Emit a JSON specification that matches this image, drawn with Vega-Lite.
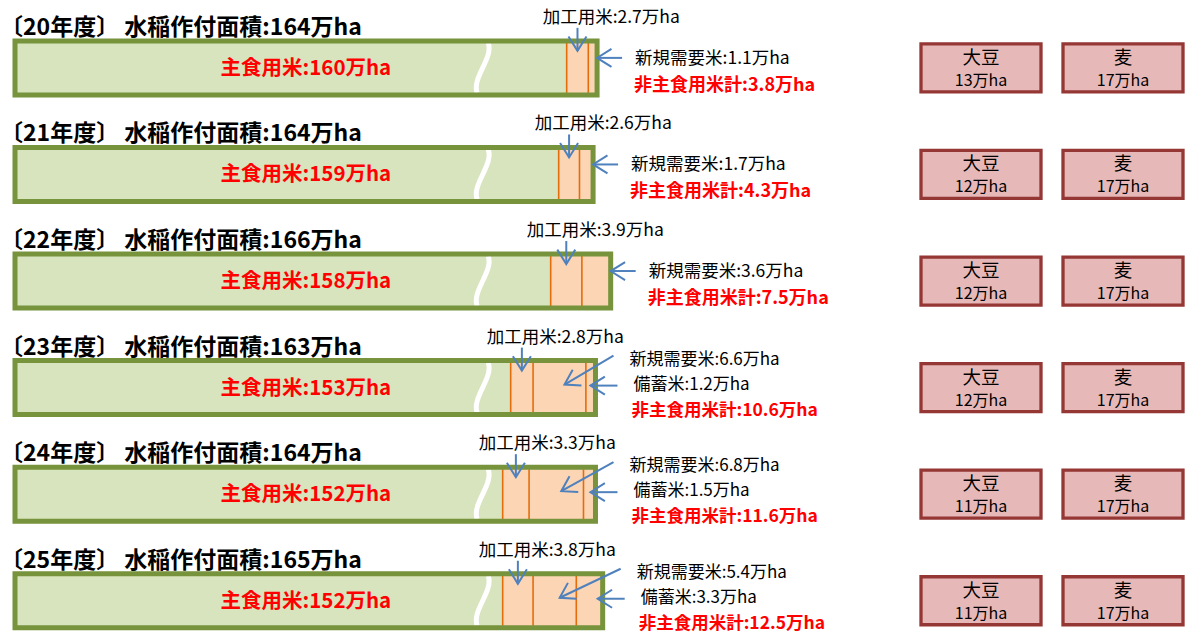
{
  "$schema": "https://vega.github.io/schema/vega-lite/v6.json",
  "width": 1168,
  "height": 639,
  "padding": {"left": 0, "top": 0, "right": 0, "bottom": 0},
  "autosize": {"type": "pad"},
  "config": {"view": {"stroke": null}, "font": "Noto Sans CJK JP"},
  "datasets": {
    "segs": [
      {"yr": 20, "cat": "主食用米", "area": 160, "ord": 1},
      {"yr": 20, "cat": "加工用米", "area": 2.7, "ord": 2},
      {"yr": 20, "cat": "新規需要米", "area": 1.1, "ord": 3},
      {"yr": 21, "cat": "主食用米", "area": 159, "ord": 1},
      {"yr": 21, "cat": "加工用米", "area": 2.6, "ord": 2},
      {"yr": 21, "cat": "新規需要米", "area": 1.7, "ord": 3},
      {"yr": 22, "cat": "主食用米", "area": 158, "ord": 1},
      {"yr": 22, "cat": "加工用米", "area": 3.9, "ord": 2},
      {"yr": 22, "cat": "新規需要米", "area": 3.6, "ord": 3},
      {"yr": 23, "cat": "主食用米", "area": 153, "ord": 1},
      {"yr": 23, "cat": "加工用米", "area": 2.8, "ord": 2},
      {"yr": 23, "cat": "新規需要米", "area": 6.6, "ord": 3},
      {"yr": 23, "cat": "備蓄米", "area": 1.2, "ord": 4},
      {"yr": 24, "cat": "主食用米", "area": 152, "ord": 1},
      {"yr": 24, "cat": "加工用米", "area": 3.3, "ord": 2},
      {"yr": 24, "cat": "新規需要米", "area": 6.8, "ord": 3},
      {"yr": 24, "cat": "備蓄米", "area": 1.5, "ord": 4},
      {"yr": 25, "cat": "主食用米", "area": 152, "ord": 1},
      {"yr": 25, "cat": "加工用米", "area": 3.8, "ord": 2},
      {"yr": 25, "cat": "新規需要米", "area": 5.4, "ord": 3},
      {"yr": 25, "cat": "備蓄米", "area": 3.3, "ord": 4}
    ],
    "years": [
      {"yr": 20, "label": "20年度", "total": 164, "nonmain": 3.8},
      {"yr": 21, "label": "21年度", "total": 164, "nonmain": 4.3},
      {"yr": 22, "label": "22年度", "total": 166, "nonmain": 7.5},
      {"yr": 23, "label": "23年度", "total": 163, "nonmain": 10.6},
      {"yr": 24, "label": "24年度", "total": 164, "nonmain": 11.6},
      {"yr": 25, "label": "25年度", "total": 165, "nonmain": 12.5}
    ],
    "crops": [
      {"yr": 20, "crop": "大豆", "area": 13}, {"yr": 20, "crop": "麦", "area": 17},
      {"yr": 21, "crop": "大豆", "area": 12}, {"yr": 21, "crop": "麦", "area": 17},
      {"yr": 22, "crop": "大豆", "area": 12}, {"yr": 22, "crop": "麦", "area": 17},
      {"yr": 23, "crop": "大豆", "area": 12}, {"yr": 23, "crop": "麦", "area": 17},
      {"yr": 24, "crop": "大豆", "area": 11}, {"yr": 24, "crop": "麦", "area": 17},
      {"yr": 25, "crop": "大豆", "area": 11}, {"yr": 25, "crop": "麦", "area": 17}
    ]
  },
  "resolve": {"scale": {"x": "independent"}},
  "layer": [
    {
      "data": {"name": "segs"},
      "transform": [
        {"stack": "area", "groupby": ["yr"], "sort": [{"field": "ord", "order": "ascending"}], "as": ["x0", "x1"]},
        {"joinaggregate": [{"op": "max", "field": "x1", "as": "xend"}, {"op": "count", "as": "nseg"}], "groupby": ["yr"]},
        {"calculate": "(datum.x0 + datum.x1) / 2", "as": "xmid"},
        {"lookup": "yr", "from": {"data": {"name": "years"}, "key": "yr", "fields": ["label", "total", "nonmain"]}},
        {"calculate": "datum.cat + ':' + datum.area + '万ha'", "as": "txt"},
        {"calculate": "'〔' + datum.label + '〕 水稲作付面積:' + datum.total + '万ha'", "as": "ttl"},
        {"calculate": "'非主食用米計:' + datum.nonmain + '万ha'", "as": "nm"}
      ],
      "encoding": {
        "y": {"field": "yr", "type": "quantitative", "scale": {"domain": [19.363, 25.359], "reverse": true, "nice": false, "zero": false}, "axis": null}
      },
      "layer": [
        {
          "mark": {"type": "rect", "yOffset": -27, "y2Offset": 27},
          "encoding": {
            "x": {"field": "x0", "type": "quantitative", "scale": {"domain": [91.04, 237.04], "clamp": true, "nice": false, "zero": false}, "axis": null},
            "x2": {"field": "x1"},
            "y2": {"field": "yr"},
            "color": {"field": "cat", "type": "nominal", "scale": {"domain": ["主食用米", "加工用米", "新規需要米", "備蓄米"], "range": ["#d7e4bd", "#fcd5b5", "#fcd5b5", "#fcd5b5"]}, "legend": null}
          }
        },
        {
          "transform": [{"filter": "datum.ord > 1"}],
          "mark": {"type": "rule", "yOffset": -25, "y2Offset": 25, "color": "#e46c0a", "strokeWidth": 1.6},
          "encoding": {
            "x": {"field": "x0", "type": "quantitative", "scale": {"domain": [91.04, 237.04], "clamp": true, "nice": false, "zero": false}, "axis": null},
            "y2": {"field": "yr"}
          }
        },
        {
          "transform": [{"filter": "datum.ord == 1"}],
          "mark": {"type": "point", "shape": "M0.22,-1C0.45,-0.4,-0.45,0.4,-0.22,1", "size": 2500, "filled": false, "stroke": "#ffffff", "strokeWidth": 5, "opacity": 1},
          "encoding": {
            "x": {"datum": 149.5, "type": "quantitative", "scale": {"domain": [91.04, 237.04], "clamp": true, "nice": false, "zero": false}, "axis": null}
          }
        },
        {
          "transform": [{"filter": "datum.ord == 1"}],
          "mark": {"type": "rect", "yOffset": -27, "y2Offset": 27, "filled": false, "stroke": "#77933c", "strokeWidth": 5},
          "encoding": {
            "x": {"field": "x0", "type": "quantitative", "scale": {"domain": [91.04, 237.04], "clamp": true, "nice": false, "zero": false}, "axis": null},
            "x2": {"field": "xend"},
            "y2": {"field": "yr"}
          }
        },
        {
          "transform": [{"filter": "datum.ord == 1"}],
          "mark": {"type": "text", "align": "left", "baseline": "middle", "dx": -15, "dy": -40, "fontSize": 23, "fontWeight": "bold", "color": "#000000"},
          "encoding": {
            "x": {"field": "x0", "type": "quantitative", "scale": {"domain": [91.04, 237.04], "clamp": true, "nice": false, "zero": false}, "axis": null},
            "text": {"field": "ttl"}
          }
        },
        {
          "transform": [{"filter": "datum.ord == 1"}],
          "mark": {"type": "text", "align": "center", "baseline": "middle", "dy": 1, "fontSize": 20.5, "fontWeight": "bold", "color": "#ff0000"},
          "encoding": {
            "x": {"datum": 127.4, "type": "quantitative", "scale": {"domain": [91.04, 237.04], "clamp": true, "nice": false, "zero": false}, "axis": null},
            "text": {"field": "txt"}
          }
        },
        {
          "transform": [{"filter": "datum.cat == '加工用米'"}],
          "mark": {"type": "text", "align": "left", "baseline": "middle", "dx": -24, "dy": -50, "fontSize": 17.5, "color": "#000000"},
          "encoding": {
            "x": {"field": "x0", "type": "quantitative", "scale": {"domain": [91.04, 237.04], "clamp": true, "nice": false, "zero": false}, "axis": null},
            "text": {"field": "txt"}
          }
        },
        {
          "transform": [{"filter": "datum.cat == '加工用米'"}],
          "mark": {"type": "rule", "yOffset": -40, "y2Offset": -17, "color": "#4f81bd", "strokeWidth": 2},
          "encoding": {
            "x": {"field": "xmid", "type": "quantitative", "scale": {"domain": [91.04, 237.04], "clamp": true, "nice": false, "zero": false}, "axis": null},
            "y2": {"field": "yr"}
          }
        },
        {
          "transform": [{"filter": "datum.cat == '加工用米'"}],
          "mark": {"type": "point", "shape": "M-1.6,-1L0,0L-1.6,1", "size": 324, "angle": 90, "filled": false, "stroke": "#4f81bd", "strokeWidth": 2, "opacity": 1, "yOffset": -17},
          "encoding": {
            "x": {"field": "xmid", "type": "quantitative", "scale": {"domain": [91.04, 237.04], "clamp": true, "nice": false, "zero": false}, "axis": null}
          }
        },
        {
          "transform": [{"filter": "datum.cat == '新規需要米' && datum.nseg == 3"}],
          "mark": {"type": "text", "align": "left", "baseline": "middle", "dx": 38, "dy": -9, "fontSize": 17.5, "color": "#000000"},
          "encoding": {
            "x": {"field": "xend", "type": "quantitative", "scale": {"domain": [91.04, 237.04], "clamp": true, "nice": false, "zero": false}, "axis": null},
            "text": {"field": "txt"}
          }
        },
        {
          "transform": [{"filter": "datum.cat == '新規需要米' && datum.nseg == 3"}],
          "mark": {"type": "rule", "xOffset": 25, "x2Offset": 0, "yOffset": -10, "color": "#4f81bd", "strokeWidth": 2},
          "encoding": {
            "x": {"field": "xend", "type": "quantitative", "scale": {"domain": [91.04, 237.04], "clamp": true, "nice": false, "zero": false}, "axis": null},
            "x2": {"field": "xend"}
          }
        },
        {
          "transform": [{"filter": "datum.cat == '新規需要米' && datum.nseg == 3"}],
          "mark": {"type": "point", "shape": "M-1.6,-1L0,0L-1.6,1", "size": 324, "angle": 180, "filled": false, "stroke": "#4f81bd", "strokeWidth": 2, "opacity": 1, "yOffset": -10},
          "encoding": {
            "x": {"field": "xend", "type": "quantitative", "scale": {"domain": [91.04, 237.04], "clamp": true, "nice": false, "zero": false}, "axis": null}
          }
        },
        {
          "transform": [{"filter": "datum.cat == '新規需要米' && datum.nseg == 4"}],
          "mark": {"type": "text", "align": "left", "baseline": "middle", "dx": 34, "dy": -28, "fontSize": 17, "color": "#000000"},
          "encoding": {
            "x": {"field": "xend", "type": "quantitative", "scale": {"domain": [91.04, 237.04], "clamp": true, "nice": false, "zero": false}, "axis": null},
            "text": {"field": "txt"}
          }
        },
        {
          "transform": [{"filter": "datum.cat == '新規需要米' && datum.nseg == 4"}],
          "mark": {"type": "rule", "xOffset": 18, "yOffset": -32, "x2Offset": 5, "y2Offset": -3, "color": "#4f81bd", "strokeWidth": 2},
          "encoding": {
            "x": {"field": "xend", "type": "quantitative", "scale": {"domain": [91.04, 237.04], "clamp": true, "nice": false, "zero": false}, "axis": null},
            "x2": {"field": "xmid"},
            "y2": {"field": "yr"}
          }
        },
        {
          "transform": [{"filter": "datum.cat == '新規需要米' && datum.nseg == 4"}],
          "mark": {"type": "point", "shape": "M-1.6,-1L0,0L-1.6,1", "size": 324, "angle": 151, "filled": false, "stroke": "#4f81bd", "strokeWidth": 2, "opacity": 1, "xOffset": 5, "yOffset": -3},
          "encoding": {
            "x": {"field": "xmid", "type": "quantitative", "scale": {"domain": [91.04, 237.04], "clamp": true, "nice": false, "zero": false}, "axis": null}
          }
        },
        {
          "transform": [{"filter": "datum.cat == '備蓄米'"}],
          "mark": {"type": "text", "align": "left", "baseline": "middle", "dx": 38, "dy": -3, "fontSize": 17, "color": "#000000"},
          "encoding": {
            "x": {"field": "xend", "type": "quantitative", "scale": {"domain": [91.04, 237.04], "clamp": true, "nice": false, "zero": false}, "axis": null},
            "text": {"field": "txt"}
          }
        },
        {
          "transform": [{"filter": "datum.cat == '備蓄米'"}],
          "mark": {"type": "rule", "xOffset": 22, "x2Offset": -5, "yOffset": -2, "color": "#4f81bd", "strokeWidth": 2},
          "encoding": {
            "x": {"field": "xend", "type": "quantitative", "scale": {"domain": [91.04, 237.04], "clamp": true, "nice": false, "zero": false}, "axis": null},
            "x2": {"field": "xend"}
          }
        },
        {
          "transform": [{"filter": "datum.cat == '備蓄米'"}],
          "mark": {"type": "point", "shape": "M-1.6,-1L0,0L-1.6,1", "size": 324, "angle": 180, "filled": false, "stroke": "#4f81bd", "strokeWidth": 2, "opacity": 1, "xOffset": -5, "yOffset": -2},
          "encoding": {
            "x": {"field": "xend", "type": "quantitative", "scale": {"domain": [91.04, 237.04], "clamp": true, "nice": false, "zero": false}, "axis": null}
          }
        },
        {
          "transform": [{"filter": "datum.ord == 1 && datum.nseg == 3"}],
          "mark": {"type": "text", "align": "left", "baseline": "middle", "dx": 37, "dy": 18, "fontSize": 18, "fontWeight": "bold", "color": "#ff0000"},
          "encoding": {
            "x": {"field": "xend", "type": "quantitative", "scale": {"domain": [91.04, 237.04], "clamp": true, "nice": false, "zero": false}, "axis": null},
            "text": {"field": "nm"}
          }
        },
        {
          "transform": [{"filter": "datum.ord == 1 && datum.nseg == 4"}],
          "mark": {"type": "text", "align": "left", "baseline": "middle", "dx": 36, "dy": 23, "fontSize": 17.5, "fontWeight": "bold", "color": "#ff0000"},
          "encoding": {
            "x": {"field": "xend", "type": "quantitative", "scale": {"domain": [91.04, 237.04], "clamp": true, "nice": false, "zero": false}, "axis": null},
            "text": {"field": "nm"}
          }
        }
      ]
    },
    {
      "data": {"name": "crops"},
      "transform": [{"calculate": "datum.area + '万ha'", "as": "lbl"}],
      "encoding": {
        "x": {"field": "crop", "type": "nominal", "scale": {"domain": ["大豆", "麦"], "range": [906, 1168], "paddingInner": 0.155, "paddingOuter": 0}, "axis": null},
        "y": {"field": "yr", "type": "quantitative", "scale": {"domain": [19.363, 25.359], "reverse": true, "nice": false, "zero": false}, "axis": null}
      },
      "layer": [
        {
          "mark": {"type": "rect", "yOffset": -24, "y2Offset": 24, "fill": "#e6b9b8", "stroke": "#953735", "strokeWidth": 3.3},
          "encoding": {"y2": {"field": "yr"}}
        },
        {
          "mark": {"type": "text", "baseline": "middle", "dy": -10, "fontSize": 18.5, "color": "#000000"},
          "encoding": {"text": {"field": "crop"}}
        },
        {
          "mark": {"type": "text", "baseline": "middle", "dy": 13, "fontSize": 16, "color": "#000000"},
          "encoding": {"text": {"field": "lbl"}}
        }
      ]
    }
  ]
}
